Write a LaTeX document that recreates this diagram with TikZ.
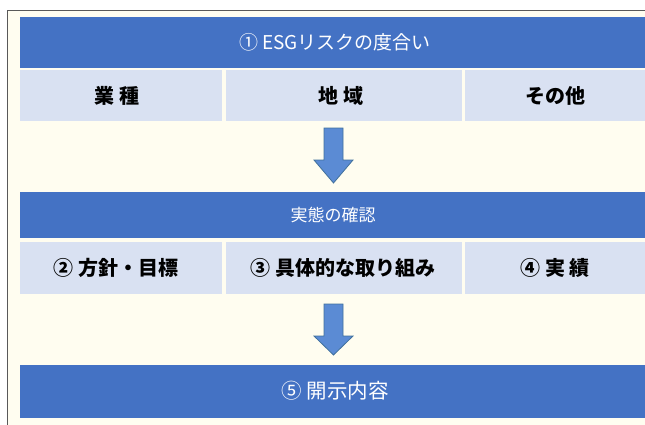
\documentclass[tikz,border=0pt]{standalone}
\usepackage{fontspec}
\setmainfont{Noto Sans CJK JP}
\definecolor{barblue}{HTML}{4472C4}
\definecolor{cellblue}{HTML}{D9E1F2}
\definecolor{cream}{HTML}{FFFDF0}
\definecolor{arrowfill}{HTML}{5B8BD4}
\definecolor{arrowline}{HTML}{41719C}
\tikzset{
  bar/.style={fill=barblue, draw=none},
  cell/.style={fill=cellblue, draw=none},
  bartext/.style={text=white, font=\fontsize{19}{21}\selectfont},
  celltext/.style={text=black, font=\fontsize{20}{22}\selectfont\bfseries},
  downarrow/.style={fill=arrowfill, draw=arrowline, line width=0.8pt, line join=miter}
}
\begin{document}
\begin{tikzpicture}[x=1pt,y=-1pt]
\useasboundingbox (0,0) rectangle (645,424);
\fill[white] (0,0) rectangle (645,424);
\fill[cream] (7.5,10.5) rectangle (650,430);
\draw[black!65, line width=1.2pt] (7.5,430) -- (7.5,10.5) -- (650,10.5);
% first block
\fill[bar] (20,17) rectangle (650,68);
\node[bartext] (t1) at (335,42.5) {① ESGリスクの度合い};
\fill[cell] (20,70) rectangle (222,121);
\fill[cell] (226,70) rectangle (462,121);
\fill[cell] (465,70) rectangle (650,121);
\node[celltext] (c1) at (117,96) {業 種};
\node[celltext] (c2) at (341,96) {地 域};
\node[celltext] (c3) at (555,96) {その他};
% arrow 1
\draw[downarrow] (324,128) -- (343,128) -- (343,160) -- (353,160) -- (333.5,183) -- (314,160) -- (324,160) -- cycle;
% second block
\fill[bar] (20,192) rectangle (650,238);
\node[bartext, font=\fontsize{17}{19}\selectfont] (t2) at (333,215) {実態の確認};
\fill[cell] (20,242) rectangle (222,294);
\fill[cell] (226,242) rectangle (462,294);
\fill[cell] (465,242) rectangle (650,294);
\node[celltext] (d1) at (116,268) {② 方針・目標};
\node[celltext] (d2) at (343,268) {③ 具体的な取り組み};
\node[celltext] (d3) at (555,268) {④ 実 績};
% arrow 2
\draw[downarrow] (324,304) -- (343,304) -- (343,336) -- (353,336) -- (333.5,355) -- (314,336) -- (324,336) -- cycle;
% third block
\fill[bar] (20,365) rectangle (650,418);
\node[bartext, font=\fontsize{20.5}{22}\selectfont] (t3) at (335,391) {⑤ 開示内容};
\end{tikzpicture}
\end{document}
